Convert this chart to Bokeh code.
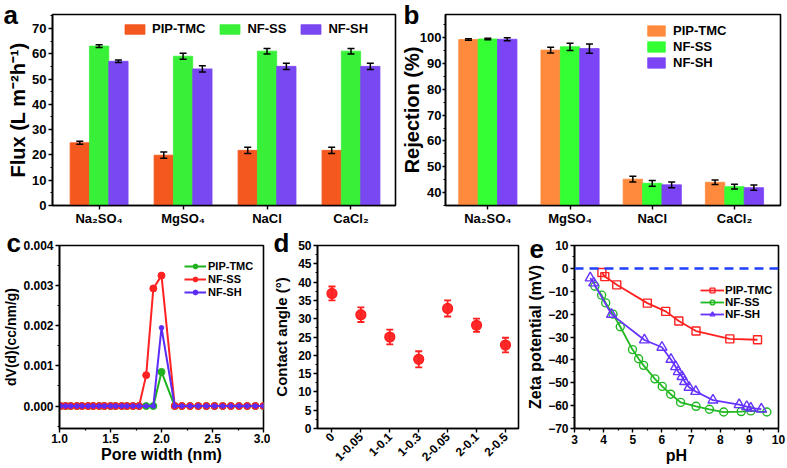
import numpy as np
from math import pi
from bokeh.plotting import figure
from bokeh.models import (Range1d, FixedTicker, Whisker, TeeHead, Legend, LegendItem,
                          Title, Span, NumeralTickFormatter, ColumnDataSource)
from bokeh.layouts import row, column
from bokeh.transform import dodge
from bokeh.embed import file_html
from bokeh.resources import INLINE

FONT = "Liberation Sans"

# ---------------- data ----------------
ions = ["Na₂SO₄", "MgSO₄", "NaCl", "CaCl₂"]
series = ["PIP-TMC", "NF-SS", "NF-SH"]

flux_pip = [24.8, 19.9, 21.8, 21.8]
flux_pip_err = [0.6, 1.2, 1.2, 1.2]
flux_ss = [63.0, 59.0, 61.0, 61.0]
flux_ss_err = [0.5, 1.2, 1.1, 1.1]
flux_sh = [57.0, 54.0, 55.0, 55.0]
flux_sh_err = [0.5, 1.2, 1.2, 1.2]

rej_pip = [99.3, 95.2, 45.2, 44.0]
rej_pip_err = [0.3, 1.1, 1.1, 0.9]
rej_ss = [99.5, 96.5, 43.6, 42.3]
rej_ss_err = [0.3, 1.4, 1.1, 0.9]
rej_sh = [99.4, 95.8, 43.0, 41.9]
rej_sh_err = [0.6, 1.8, 1.1, 1.0]

pore_x = [1.01, 1.06, 1.11, 1.17, 1.22, 1.28, 1.33, 1.39, 1.44, 1.50, 1.55, 1.61,
          1.66, 1.72, 1.78, 1.85, 1.92, 2.00, 2.13, 2.20, 2.28, 2.36, 2.44, 2.52,
          2.60, 2.68, 2.76, 2.84, 2.92, 3.00]
pore_pip = [0, 0, 0, 0, 0, 0, 0, 0, 0, 0, 0, 0, 0, 0, 0, 0, 0, 0.00085, 0, 0,
            0, 0, 0, 0, 0, 0, 0, 0, 0, 0]
pore_ss = [0, 0, 0, 0, 0, 0, 0, 0, 0, 0, 0, 0, 0, 0, 0, 0.00077, 0.00293, 0.00325,
           0, 0, 0, 0, 0, 0, 0, 0, 0, 0, 0, 0]
pore_sh = [0, 0, 0, 0, 0, 0, 0, 0, 0, 0, 0, 0, 0, 0, 0, 0, 0, 0.00195, 0, 0,
           0, 0, 0, 0, 0, 0, 0, 0, 0, 0]

ca_labels = ["0", "1-0.05", "1-0.1", "1-0.3", "2-0.05", "2-0.1", "2-0.5"]
ca_vals = [36.9, 31.1, 25.0, 18.9, 32.8, 28.2, 22.8]
ca_err = [1.9, 2.0, 2.0, 2.2, 2.2, 1.8, 2.0]

zp_pip_x = [3.94, 4.04, 4.45, 5.50, 6.13, 6.58, 7.17, 8.33, 9.28]
zp_pip_y = [-1.8, -3.6, -7.2, -15.2, -18.8, -23.0, -27.4, -30.8, -31.2]
zp_ss_x = [3.70, 3.93, 4.07, 4.32, 4.57, 4.99, 5.20, 5.37, 5.76, 6.01, 6.30, 6.64,
           7.17, 7.63, 8.12, 8.72, 9.05, 9.60]
zp_ss_y = [-7.8, -11.7, -15.1, -20.0, -25.5, -35.5, -39.5, -42.4, -48.3, -51.6, -55.0,
           -58.6, -60.3, -61.6, -62.8, -62.6, -62.3, -62.8]
zp_sh_x = [3.54, 3.66, 4.27, 5.40, 6.00, 6.31, 6.47, 6.56, 6.69, 6.78, 6.93, 7.16,
           7.75, 8.65, 8.91, 9.05, 9.41]
zp_sh_y = [-4.2, -6.4, -20.1, -31.3, -34.5, -39.8, -43.0, -45.2, -47.3, -49.5, -52.0,
           -53.8, -57.6, -59.6, -60.4, -61.1, -61.5]

a_yticks = [0, 10, 20, 30, 40, 50, 60, 70]
a_yminor = [5, 15, 25, 35, 45, 55, 65, 75]
b_yticks = [40, 50, 60, 70, 80, 90, 100]
b_yminor = [35, 45, 55, 65, 75, 85, 95, 105]
c_xticks = [1.0, 1.5, 2.0, 2.5, 3.0]
c_xminor = [1.25, 1.75, 2.25, 2.75]
c_yticks = [0.0, 0.001, 0.002, 0.003, 0.004]
c_yminor = [-0.0005, 0.0005, 0.0015, 0.0025, 0.0035]
d_yticks = [0, 5, 10, 15, 20, 25, 30, 35, 40, 45, 50]
d_yminor = [2.5, 7.5, 12.5, 17.5, 22.5, 27.5, 32.5, 37.5, 42.5, 47.5]
e_xticks = [3, 4, 5, 6, 7, 8, 9, 10]
e_xminor = [3.5, 4.5, 5.5, 6.5, 7.5, 8.5, 9.5]
e_yticks = [-70, -60, -50, -40, -30, -20, -10, 0, 10]
e_yminor = [-65, -55, -45, -35, -25, -15, -5, 5]


def style(p, tick_size="13px"):
    p.outline_line_color = "black"
    p.outline_line_width = 1.6
    p.outline_line_alpha = 1.0
    p.xgrid.visible = False
    p.ygrid.visible = False
    p.background_fill_color = "white"
    p.border_fill_color = "white"
    for ax in [p.xaxis[0], p.yaxis[0]]:
        ax.axis_line_width = 1.6
        ax.major_tick_line_width = 1.4
        ax.minor_tick_line_width = 1.2
        ax.major_tick_in = 0
        ax.major_tick_out = 4
        ax.minor_tick_in = 0
        ax.minor_tick_out = 2
        ax.major_label_standoff = 2
        ax.major_label_text_font = FONT
        ax.major_label_text_font_style = "bold"
        ax.major_label_text_font_size = tick_size
        ax.major_label_text_color = "black"
        ax.axis_label_text_font = FONT
        ax.axis_label_text_font_style = "bold"
        ax.axis_label_text_color = "black"
        ax.axis_label_standoff = 1


def letter(p, txt, offset, standoff):
    p.add_layout(Title(text=txt, align="left", offset=offset, standoff=standoff,
                       vertical_align="bottom", text_font=FONT, text_font_style="bold",
                       text_font_size="26px", text_color="black"), "above")


def legend_style(lg, size):
    lg.label_text_font = FONT
    lg.label_text_font_style = "bold"
    lg.label_text_font_size = size
    lg.label_text_color = "black"
    lg.border_line_alpha = 0
    lg.background_fill_alpha = 0
    lg.padding = 0
    lg.margin = 0


def bar_panel(p, vals_list, errs_list, colors, width):
    renderers = []
    idx = list(range(1, len(ions) + 1))
    offsets = [-width, 0.0, width]
    for vals, errs, col, off in zip(vals_list, errs_list, colors, offsets):
        v = np.array(vals)
        e = np.array(errs)
        src = ColumnDataSource(dict(x=idx, top=vals, upper=list(v + e), lower=list(v - e)))
        r = p.vbar(x=dodge("x", off, range=p.x_range), top="top", bottom=0, width=width,
                   source=src, fill_color=col, line_color=col, line_width=0.8)
        renderers.append(r)
        p.add_layout(Whisker(base=dodge("x", off, range=p.x_range), upper="upper",
                             lower="lower", source=src, line_color="black", line_width=1.5,
                             level="overlay",
                             upper_head=TeeHead(size=7, line_width=1.5, line_color="black"),
                             lower_head=TeeHead(size=7, line_width=1.5, line_color="black")))
    p.xaxis.ticker = FixedTicker(ticks=idx, minor_ticks=[])
    p.xaxis.major_label_overrides = {i: name for i, name in zip(idx, ions)}
    p.xaxis.major_label_standoff = 1
    return renderers


# ---------------- panel a ----------------
TOP_H = 228
pa = figure(width=397, height=TOP_H, x_range=Range1d(0.445, 4.53), y_range=Range1d(0, 75.5),
            output_backend="svg", toolbar_location=None,
            min_border_left=52, min_border_right=2, min_border_top=14, min_border_bottom=19)
style(pa)
ra = bar_panel(pa, [flux_pip, flux_ss, flux_sh], [flux_pip_err, flux_ss_err, flux_sh_err],
               ["#F4581F", "#38F038", "#7A48F0"], 0.23)
pa.yaxis.ticker = FixedTicker(ticks=a_yticks, minor_ticks=a_yminor)
pa.yaxis.axis_label = "Flux (L m⁻²h⁻¹)"
pa.yaxis.axis_label_text_font_size = "20px"
pa.yaxis.axis_label_standoff = 0
lga = Legend(items=[LegendItem(label=s, renderers=[r]) for s, r in zip(series, ra)],
             location=(70, 169), orientation="horizontal", glyph_width=25, glyph_height=12,
             label_standoff=5, spacing=12, label_height=14)
legend_style(lga, "13px")
pa.add_layout(lga)
letter(pa, "a", -49, -30)

# ---------------- panel b ----------------
pb = figure(width=390, height=TOP_H, x_range=Range1d(0.485, 4.56), y_range=Range1d(35, 109),
            output_backend="svg", toolbar_location=None,
            min_border_left=43, min_border_right=7, min_border_top=14, min_border_bottom=19)
style(pb)
rb = bar_panel(pb, [rej_pip, rej_ss, rej_sh], [rej_pip_err, rej_ss_err, rej_sh_err],
               ["#FF8A3D", "#33FF33", "#7B44F5"], 0.236)
pb.yaxis.ticker = FixedTicker(ticks=b_yticks, minor_ticks=b_yminor)
pb.yaxis.major_label_standoff = 1
pb.yaxis.major_tick_out = 3
pb.yaxis.axis_label = "Rejection (%)"
pb.yaxis.axis_label_text_font_size = "20px"
pb.yaxis.axis_label_standoff = -6
lgb = Legend(items=[LegendItem(label=s, renderers=[r]) for s, r in zip(series, rb)],
             location=(200, 135), orientation="vertical", glyph_width=22, glyph_height=13,
             label_standoff=6, spacing=1, label_height=14)
legend_style(lgb, "13px")
pb.add_layout(lgb)
letter(pb, "b", -42, -30)

# ---------------- panel c ----------------
BOT_H = 240
pc = figure(width=270, height=BOT_H, x_range=Range1d(1.0, 3.0),
            y_range=Range1d(-0.00056, 0.004),
            output_backend="svg", toolbar_location=None,
            min_border_left=55, min_border_right=7, min_border_top=17, min_border_bottom=38)
style(pc, "12px")
pc.xaxis.ticker = FixedTicker(ticks=c_xticks, minor_ticks=c_xminor)
pc.yaxis.ticker = FixedTicker(ticks=c_yticks, minor_ticks=c_yminor)
pc.xaxis.formatter = NumeralTickFormatter(format="0.0")
pc.yaxis.formatter = NumeralTickFormatter(format="0.000")
pc.xaxis.axis_label = "Pore width (nm)"
pc.xaxis.axis_label_text_font_size = "16px"
pc.xaxis.axis_label_standoff = 0
pc.xaxis.major_label_standoff = 1
pc.yaxis.axis_label = "dV(d)(cc/nm/g)"
pc.yaxis.axis_label_text_font_size = "14px"
c_items = []
for ys, col, sz, lab in [(pore_pip, "#1FB21F", 7, series[0]), (pore_ss, "#FF2222", 7, series[1]),
                         (pore_sh, "#5A2CF5", 4.5, series[2])]:
    l = pc.line(pore_x, ys, line_color=col, line_width=2)
    s = pc.scatter(pore_x, ys, marker="circle", size=sz, fill_color=col, line_color=col)
    c_items.append(LegendItem(label=lab, renderers=[l, s]))
lgc = Legend(items=c_items, location=(125, 130), orientation="vertical", glyph_width=22,
             glyph_height=12, label_standoff=2, spacing=1, label_height=12)
legend_style(lgc, "11px")
pc.add_layout(lgc)
letter(pc, "c", -53, -24)

# ---------------- panel d ----------------
pd_ = figure(width=254, height=BOT_H, x_range=Range1d(-0.5, 6.45), y_range=Range1d(0, 50),
             output_backend="svg", toolbar_location=None,
             min_border_left=42, min_border_right=6, min_border_top=17, min_border_bottom=40)
style(pd_, "12px")
d_idx = list(range(len(ca_labels)))
pd_.xaxis.ticker = FixedTicker(ticks=d_idx, minor_ticks=[])
pd_.xaxis.major_label_overrides = {i: t for i, t in zip(d_idx, ca_labels)}
pd_.xaxis.major_label_orientation = pi / 4
pd_.yaxis.ticker = FixedTicker(ticks=d_yticks, minor_ticks=d_yminor)
pd_.yaxis.axis_label = "Contact angle (°)"
pd_.yaxis.axis_label_text_font_size = "15px"
pd_.yaxis.axis_label_standoff = 5
cv = np.array(ca_vals)
ce = np.array(ca_err)
dsrc = ColumnDataSource(dict(x=d_idx, y=ca_vals, upper=list(cv + ce), lower=list(cv - ce)))
pd_.add_layout(Whisker(base="x", upper="upper", lower="lower", source=dsrc,
                       line_color="#FF2020", line_width=1.8, level="overlay",
                       upper_head=TeeHead(size=7, line_width=1.8, line_color="#FF2020"),
                       lower_head=TeeHead(size=7, line_width=1.8, line_color="#FF2020")))
pd_.scatter("x", "y", source=dsrc, marker="circle", size=10, fill_color="#FF2A2A",
            line_color="#FF1A1A", line_width=1.2)
letter(pd_, "d", -44, -24)

# ---------------- panel e ----------------
pe = figure(width=263, height=BOT_H, x_range=Range1d(3, 10), y_range=Range1d(-70, 10),
            output_backend="svg", toolbar_location=None,
            min_border_left=48, min_border_right=9, min_border_top=17, min_border_bottom=39)
style(pe, "12px")
pe.xaxis.ticker = FixedTicker(ticks=e_xticks, minor_ticks=e_xminor)
pe.yaxis.ticker = FixedTicker(ticks=e_yticks, minor_ticks=e_yminor)
pe.xaxis.axis_label = "pH"
pe.xaxis.axis_label_text_font_size = "16px"
pe.xaxis.axis_label_standoff = 0
pe.yaxis.axis_label = "Zeta potential (mV)"
pe.yaxis.axis_label_text_font_size = "16px"
pe.add_layout(Span(location=0, dimension="width", line_color="#2040FF", line_width=2.5,
                   line_dash="9 6"))
e_items = []
for xs, ys, col, mk, sz, lab in [(zp_pip_x, zp_pip_y, "#FF2020", "square", 8, series[0]),
                                 (zp_ss_x, zp_ss_y, "#22B822", "circle", 8, series[1]),
                                 (zp_sh_x, zp_sh_y, "#6633FF", "triangle", 10, series[2])]:
    l = pe.line(xs, ys, line_color=col, line_width=1.8)
    s = pe.scatter(xs, ys, marker=mk, size=sz, fill_color="white", fill_alpha=0.0,
                   line_color=col, line_width=1.4)
    e_items.append(LegendItem(label=lab, renderers=[l, s]))
lge = Legend(items=e_items, location=(126, 108), orientation="vertical", glyph_width=24,
             glyph_height=12, label_standoff=1, spacing=0, label_height=12)
legend_style(lge, "11.5px")
pe.add_layout(lge)
letter(pe, "e", -45, -24)

layout = column(row(pa, pb), row(pc, pd_, pe))
open("out.html", "w").write(file_html(layout, INLINE))
